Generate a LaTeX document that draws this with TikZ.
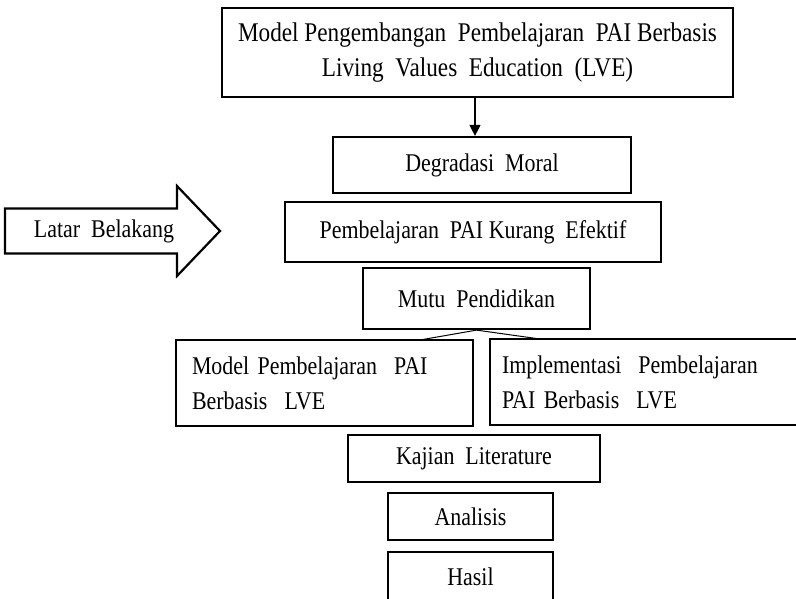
\documentclass[tikz,border=0pt]{standalone}
\usepackage{fontspec}
\setmainfont{Liberation Serif}[FakeStretch=0.86]
\usetikzlibrary{arrows.meta}
\begin{document}
\begin{tikzpicture}[x=1pt,y=-1pt,
  box/.style={draw, line width=2.2pt, inner sep=0pt, align=center,
    font=\fontsize{25.5}{35}\selectfont},
  leftbox/.style={box, align=left, inner xsep=#1, inner ysep=0pt,
    font=\fontsize{25.5}{35}\selectfont},
  conn/.style={line width=1pt},
  arr/.style={line width=1.3pt, -{Triangle[length=11pt,width=11pt]}}]
\useasboundingbox (0,0) rectangle (796,598);
\fill[white] (0,0) rectangle (796,598);

\node[box, minimum width=511pt, minimum height=89pt, font=\fontsize{27}{35}\selectfont] (top) at (477.5,52.5)
  {Model Pengembangan~ Pembelajaran~ PAI Berbasis\\Living~ Values~ Education~ (LVE)};
\node[box, minimum width=298pt, minimum height=56pt] (degr) at (482,165) {Degradasi~ Moral};
\node[box, minimum width=376pt, minimum height=60pt] (pemb) at (473,232) {Pembelajaran~ PAI Kurang~ Efektif};
\node[box, minimum width=227pt, minimum height=61pt] (mutu) at (476.5,298.5) {Mutu~ Pendidikan};
\node[leftbox=16pt, text width=265pt, minimum height=86pt] (lbox) at (324.5,383)
  {Model Pembelajaran~ PAI\\Berbasis~ LVE};
\node[leftbox=12pt, text width=291pt, minimum height=86pt] (rbox) at (647.5,382)
  {Implementasi~ Pembelajaran\\PAI Berbasis~ LVE};
\node[box, minimum width=252pt, minimum height=47pt] (kaj) at (474,458.5) {Kajian~ Literature};
\node[box, minimum width=165pt, minimum height=47pt] (ana) at (470.5,516.5) {Analisis};
\node[box, minimum width=165pt, minimum height=50pt] (has) at (470.5,577) {Hasil};

% Latar Belakang block arrow
\draw[line width=2.2pt, line join=miter] (5,208.5) -- (177,208.5) -- (177,186) -- (220,231)
  -- (177,276) -- (177,253.5) -- (5,253.5) -- cycle;
\node[font=\fontsize{25.5}{35}\selectfont] (latar) at (104,231) {Latar~ Belakang};

% arrow from top box to Degradasi Moral
\coordinate (ax) at (475,0);
\draw[arr] (top.south -| ax) -- (degr.north -| ax);

% connectors from Mutu Pendidikan
\coordinate (lj) at (420,340);
\coordinate (rj) at (540,339);
\draw[conn] (lj) -- (mutu.south) -- (rj);
\end{tikzpicture}
\end{document}
